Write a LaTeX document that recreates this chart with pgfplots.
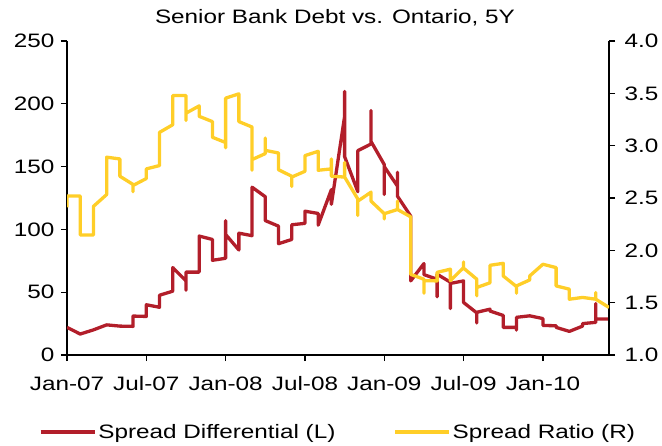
\documentclass[border=0pt]{standalone}
\usepackage{fontspec}
\setmainfont{Liberation Sans}[FakeStretch=1.25]
\usepackage{pgfplots}
\pgfplotsset{compat=1.18}
\definecolor{cred}{RGB}{178,30,42}
\definecolor{cyel}{RGB}{255,206,40}
\newcommand{\cf}{\fontsize{19.5}{22}\selectfont}
\begin{document}
\begin{tikzpicture}
\useasboundingbox (-67bp,-91bp) rectangle (595bp,355bp);
\pgfplotsset{
  every axis/.append style={
    scale only axis, width=542bp, height=314bp, xmin=0, xmax=41,
    at={(0bp,0bp)}, anchor=origin,
    tick label style={font=\cf},
    /pgf/number format/assume math mode=true,
    axis line style={line width=1.3bp, black},
    major tick length=6bp, tick style={line width=1.3bp, black}, tick align=outside,
  },
}
\begin{axis}[
  axis x line*=bottom, axis y line*=left,
  ymin=0, ymax=250, ytick={0,50,...,250},
  xtick={0,6,...,36},
  xticklabels={Jan-07,Jul-07,Jan-08,Jul-08,Jan-09,Jul-09,Jan-10},
  xticklabel style={anchor=north, yshift=-12bp},
  yticklabel style={anchor=east, xshift=-3bp},
  title={Senior Bank Debt vs. Ontario, 5Y},
  title style={font=\cf, at={(0.5,1)}, anchor=base, yshift=12bp, xshift=-3bp, inner sep=0pt},
  legend style={at={(0.5,-0.245)}, anchor=center, draw=none, legend columns=2,
    font=\cf, /tikz/every even column/.append style={column sep=56bp}},
  legend image code/.code={\draw[#1] (0bp,0bp) -- (54bp,0bp);},
]
\addplot[cred, line width=3.3bp, line join=round] coordinates {
(0,22) (1,16.7) (2,20) (3,24) (4,23) (5,22.8) (5,31) (6,30.7) (6,40) (7,38) (7,47.6)
(8,50.8) (8,69.6) (9,59) (9,51.6) (9,66) (10,66) (10,94.7) (11,92) (11,75.4) (12,77)
(12,107) (12,96) (13,83.6) (13,97) (14,95) (14,133.6) (15,126) (15,107) (16,102.6)
(16,88.6) (17,92) (17,103.7) (18,104.8) (18,114.5) (19,112.7) (19,103.4) (20,131.7)
(20,120) (21,190) (21,209.8) (21,158) (22,130) (22,162.7) (23,168) (23,194.7) (23,170)
(24,151.6) (24,127.8) (24,150) (25,134.4) (25,145.5) (25,126.4) (26,110.6) (26,59)
(27,72.8) (27,64) (28,60.3) (28,46.3) (28,64.3) (29,58) (29,37) (29,57) (30,59) (30,41.8)
(31,33.5) (31,25.5) (31,34) (32,36.5) (32,35) (33,31.5) (33,22) (34,22) (34,19.8) (34,30)
(35,31.2) (36,29) (36,23.5) (37,23.3) (37,22) (38,18.8) (39,23) (39,25) (40,26) (40,41)
(40,28.6) (41,28.6)
};
\addlegendentry{Spread Differential (L)}
\addlegendimage{cyel, line width=3.3bp}
\addlegendentry{Spread Ratio (R)}
\end{axis}
\begin{axis}[
  axis x line=none, axis y line*=right,
  ymin=1, ymax=4, ytick={1,1.5,...,4},
  yticklabel style={anchor=west, xshift=6bp, /pgf/number format/.cd, fixed, fixed zerofill, precision=1},
]
\addplot[cyel, line width=3.3bp, line join=round] coordinates {
(0,2.41) (0,2.52) (1,2.52) (1,2.146) (2,2.146) (2,2.42) (3,2.533) (3,2.89) (4,2.873)
(4,2.708) (5,2.629) (5,2.56) (5,2.62) (6,2.686) (6,2.778) (7,2.81) (7,3.127) (8,3.2)
(8,3.479) (9,3.479) (9,3.24) (9,3.31) (10,3.38) (10,3.28) (11,3.23) (11,3.08) (12,3.03)
(12,2.98) (12,3.454) (13,3.495) (13,3.23) (14,3.178) (14,2.765) (14,2.867) (15,2.924)
(15,3.073) (15,2.955) (16,2.93) (16,2.77) (17,2.708) (17,2.61) (17,2.70) (18,2.755)
(18,2.905) (19,2.946) (19,2.765) (20,2.778) (20,2.873) (20,2.708) (21,2.70) (21,2.84)
(21,2.70) (22,2.49) (22,2.333) (22,2.47) (23,2.556) (23,2.47) (24,2.35) (24,2.30)
(24,2.35) (25,2.39) (25,2.47) (25,2.39) (26,2.32) (26,1.77) (27,1.724) (27,1.59)
(27,1.71) (28,1.708) (28,1.79) (29,1.82) (29,1.71) (30,1.835) (30,1.889) (30,1.83)
(31,1.724) (31,1.565) (31,1.645) (32,1.69) (32,1.857) (33,1.876) (33,1.755) (34,1.654)
(34,1.59) (34,1.66) (35,1.717) (35,1.755) (36,1.867) (37,1.835) (37,1.66) (38,1.629)
(38,1.533) (39,1.55) (40,1.533) (40,1.597) (40,1.533) (41,1.454)
};
\end{axis}
\end{tikzpicture}
\end{document}
